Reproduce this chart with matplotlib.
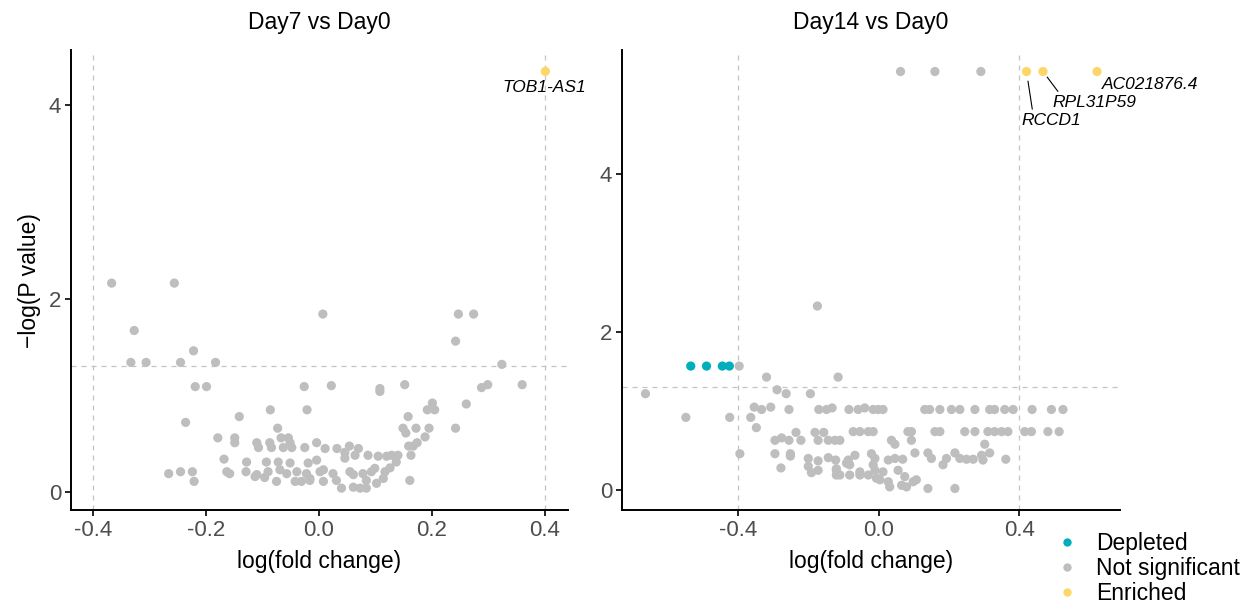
import matplotlib
matplotlib.use("Agg")
import matplotlib.pyplot as plt
from matplotlib.lines import Line2D

plt.rcParams["font.family"] = ["Liberation Sans", "DejaVu Sans"]
plt.rcParams["axes.unicode_minus"] = False

GREY = "#BEBEBE"
TEAL = "#00AFBB"
GOLD = "#FDD668"
LFC_CUT = 0.4
P_CUT = 1.3

# Day7 vs Day0: log fold change / -log10(p)
d7_lfc = [
    -0.367, -0.256, -0.327, -0.222, -0.333, -0.306, -0.245, -0.183,
    -0.219, -0.199, -0.026, -0.086, -0.021, -0.141, -0.236, -0.073,
    -0.179, -0.149, -0.149, -0.067, -0.054, -0.110, -0.087, -0.051,
    -0.107, -0.084, -0.063, -0.048, -0.025, -0.004,
    -0.168, -0.128, -0.093, -0.072, -0.051, -0.019, -0.004,
    -0.163, -0.129, -0.110, -0.090, -0.069, -0.057, -0.039, -0.022, 0.002,
    -0.266, -0.245, -0.224, -0.221,
    -0.075, -0.042, -0.031, -0.016, -0.113, -0.096, -0.158,
    0.007, 0.247, 0.274, 0.242, 0.324, 0.022, 0.108, 0.108, 0.152,
    0.288, 0.299, 0.360, 0.201, 0.192, 0.205, 0.261, 0.158, 0.149, 0.154,
    0.172, 0.195, 0.242, 0.188, 0.174, 0.159, 0.167, 0.163, 0.161,
    0.011, 0.032, 0.054, 0.070, 0.046, 0.046, 0.064, 0.087,
    0.105, 0.120, 0.129, 0.140,
    -0.016, 0.008, 0.008, 0.025, 0.031, 0.055, 0.061, 0.078, 0.093, 0.099,
    0.117, 0.114, 0.102, 0.084, 0.061, 0.073, 0.084, 0.040, 0.137, 0.126,
    0.401,
]
d7_nlp = [
    2.16, 2.16, 1.67, 1.46, 1.34, 1.34, 1.34, 1.34,
    1.09, 1.09, 1.09, 0.85, 0.85, 0.78, 0.72, 0.66,
    0.56, 0.56, 0.51, 0.56, 0.56, 0.51, 0.51, 0.51,
    0.46, 0.46, 0.46, 0.46, 0.46, 0.51,
    0.34, 0.31, 0.31, 0.31, 0.30, 0.30, 0.33,
    0.21, 0.21, 0.18, 0.21, 0.23, 0.19, 0.21, 0.19, 0.21,
    0.19, 0.21, 0.21, 0.11,
    0.11, 0.11, 0.11, 0.12, 0.16, 0.15, 0.19,
    1.84, 1.84, 1.84, 1.56, 1.32, 1.10, 1.07, 1.04, 1.11,
    1.08, 1.11, 1.11, 0.92, 0.85, 0.85, 0.91, 0.78, 0.66, 0.61,
    0.66, 0.66, 0.66, 0.57, 0.51, 0.475, 0.475, 0.38, 0.12,
    0.45, 0.45, 0.475, 0.45, 0.41, 0.35, 0.38, 0.38,
    0.37, 0.37, 0.38, 0.38,
    0.14, 0.23, 0.11, 0.19, 0.12, 0.21, 0.18, 0.19, 0.21, 0.245,
    0.21, 0.14, 0.09, 0.12, 0.05, 0.04, 0.04, 0.04, 0.31, 0.25,
    4.35,
]
d7_genes = {"TOB1-AS1": (0.401, 4.35)}

# Day14 vs Day0
d14_lfc = [
    0.062, 0.160, 0.291, 0.421, 0.468, 0.622,
    -0.175,
    -0.536, -0.491, -0.446, -0.426, -0.398,
    -0.320, -0.116, -0.665, -0.290, -0.264, -0.195,
    -0.550, -0.425, -0.365,
    -0.355, -0.334, -0.308, -0.256, -0.349, -0.396,
    -0.296, -0.277, -0.256, -0.236, -0.222, -0.296, -0.252, -0.252, -0.279,
    -0.182, -0.157, -0.173, -0.144, -0.125, -0.111,
    -0.171, -0.149, -0.133, -0.085, -0.059, -0.040, -0.016,
    -0.073, -0.054, -0.030, -0.016,
    -0.201, -0.201, -0.173, -0.192, -0.173, -0.144, -0.123, -0.121, -0.087,
    -0.068, -0.083, -0.054, -0.021, -0.121, -0.083,
    -0.121, -0.111, -0.092, -0.054, -0.030, -0.016, -0.007,
    -0.002, 0.012, 0.131, 0.145, 0.174, 0.207, 0.231, 0.274, 0.316, 0.330,
    0.359, 0.383, 0.437, 0.492, 0.525,
    0.083, 0.093, 0.160, 0.174, 0.245, 0.274, 0.311, 0.330, 0.350, 0.368,
    0.416, 0.435, 0.482, 0.514,
    0.036, 0.046, 0.093, 0.302, 0.103, 0.140, 0.150, 0.193, 0.183, 0.217,
    0.231, 0.250, 0.269, 0.293, 0.297, 0.316, 0.362,
    -0.011, 0.027, 0.046, 0.068,
    -0.011, 0.012, 0.003, 0.027, 0.031, 0.055, 0.065, 0.074, 0.079, 0.098,
    0.107, 0.140, 0.217,
]
d14_nlp = [
    5.30, 5.30, 5.30, 5.30, 5.30, 5.30,
    2.33,
    1.57, 1.57, 1.57, 1.57, 1.57,
    1.43, 1.43, 1.22, 1.27, 1.22, 1.22,
    0.92, 0.92, 0.92,
    1.05, 1.02, 1.05, 1.02, 0.79, 0.46,
    0.63, 0.66, 0.63, 0.73, 0.63, 0.46, 0.46, 0.43, 0.28,
    0.73, 0.73, 0.63, 0.63, 0.63, 0.63,
    1.02, 1.02, 1.04, 1.02, 1.02, 1.04, 1.02,
    0.74, 0.74, 0.74, 0.74,
    0.40, 0.30, 0.37, 0.22, 0.25, 0.41, 0.38, 0.27, 0.38,
    0.44, 0.32, 0.23, 0.46, 0.19, 0.19,
    0.25, 0.19, 0.34, 0.19, 0.19, 0.32, 0.15,
    1.02, 1.02, 1.02, 1.02, 1.02, 1.02, 1.02, 1.02, 1.02, 1.02,
    1.02, 1.02, 1.02, 1.02, 1.02,
    0.74, 0.74, 0.74, 0.74, 0.74, 0.74, 0.74, 0.74, 0.74, 0.74,
    0.74, 0.74, 0.74, 0.74,
    0.63, 0.58, 0.63, 0.58, 0.47, 0.47, 0.40, 0.40, 0.32, 0.47,
    0.40, 0.39, 0.39, 0.44, 0.38, 0.47, 0.39,
    0.40, 0.38, 0.40, 0.39,
    0.25, 0.23, 0.13, 0.105, 0.04, 0.25, 0.06, 0.17, 0.04, 0.105,
    0.13, 0.02, 0.02,
]
d14_genes = {"AC021876.4": (0.622, 5.30), "RPL31P59": (0.468, 5.30),
             "RCCD1": (0.421, 5.30)}


def status_colour(x, y):
    if y > P_CUT and x >= LFC_CUT:
        return GOLD
    if y > P_CUT and x <= -LFC_CUT:
        return TEAL
    return GREY


def volcano(ax, lfc, nlp, title, xlim, ylim, xticks):
    cols = [status_colour(x, y) for x, y in zip(lfc, nlp)]
    ax.scatter(lfc, nlp, c=cols, s=44, linewidths=0, zorder=3)
    for v in (-LFC_CUT, LFC_CUT):
        ax.axvline(v, color="#C4C4C4", ls=(0, (4, 4)), lw=0.9, zorder=1)
    ax.axhline(P_CUT, color="#C4C4C4", ls=(0, (4, 4)), lw=0.9, zorder=1)
    ax.set_xlim(*xlim)
    ax.set_ylim(*ylim)
    ax.set_xticks(xticks)
    ax.set_xticklabels([f"{t:.1f}" for t in xticks])
    ax.set_yticks([0, 2, 4])
    ax.set_title(title, fontsize=16.5, pad=15)
    ax.set_xlabel("log(fold change)", fontsize=16.5, labelpad=7)
    for s in ("top", "right"):
        ax.spines[s].set_visible(False)
    for s in ("left", "bottom"):
        ax.spines[s].set_linewidth(1.4)
    ax.tick_params(labelsize=16, labelcolor="#4D4D4D", width=1.2, length=4,
                   pad=3)


fig = plt.figure(figsize=(12.54, 6.05), dpi=100)
ax1 = fig.add_axes([0.0566, 0.157, 0.3963, 0.760])
ax2 = fig.add_axes([0.496, 0.157, 0.397, 0.760])

volcano(ax1, d7_lfc, d7_nlp, "Day7 vs Day0", (-0.439, 0.441), (-0.186, 4.568),
        [-0.4, -0.2, 0.0, 0.2, 0.4])
volcano(ax2, d14_lfc, d14_nlp, "Day14 vs Day0", (-0.732, 0.687), (-0.253, 5.57),
        [-0.4, 0.0, 0.4])
ax1.set_ylabel("\u2212log(P value)", fontsize=16.5, labelpad=6)

# gene labels (offsets in points)
lab = dict(fontsize=12.5, style="italic", ha="center", va="center")
ax1.annotate("TOB1-AS1", d7_genes["TOB1-AS1"], xytext=(-1, -12),
             textcoords="offset points", **lab)
ax2.annotate("AC021876.4", d14_genes["AC021876.4"], xytext=(38, -9),
             textcoords="offset points", **lab)
ax2.annotate("RPL31P59", d14_genes["RPL31P59"], xytext=(37, -22.5),
             textcoords="offset points", **lab,
             arrowprops=dict(arrowstyle="-", color="black", lw=0.8,
                             relpos=(0.1, 1.0), shrinkA=1, shrinkB=5))
ax2.annotate("RCCD1", d14_genes["RCCD1"], xytext=(17.5, -35.5),
             textcoords="offset points", **lab,
             arrowprops=dict(arrowstyle="-", color="black", lw=0.8,
                             relpos=(0.2, 1.0), shrinkA=1, shrinkB=7))

handles = [Line2D([], [], ls="", marker="o", ms=6, mec="none", mfc=c, label=l)
           for c, l in [(TEAL, "Depleted"), (GREY, "Not significant"), (GOLD, "Enriched")]]
fig.legend(handles=handles, loc="upper left", bbox_to_anchor=(0.842, 0.121),
           frameon=False, fontsize=16.5, handlelength=1.0, handletextpad=0.75,
           labelspacing=0.1, borderpad=0, borderaxespad=0)

fig.savefig("out.png", dpi=100)
